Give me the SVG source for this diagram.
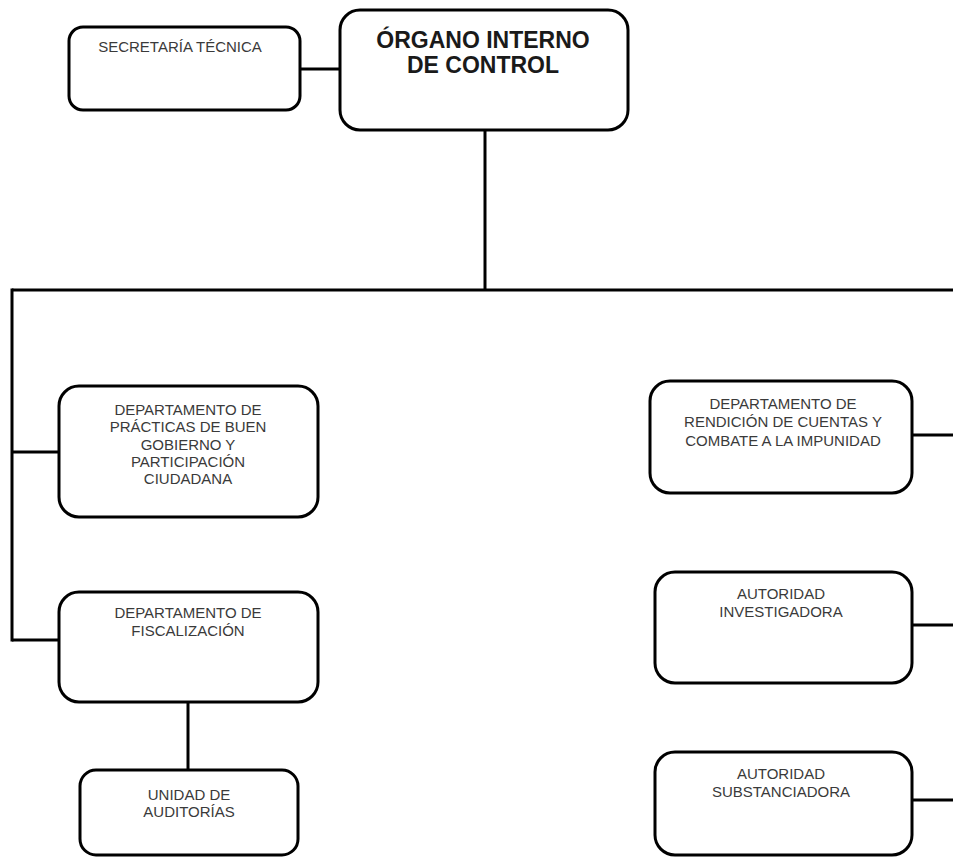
<svg xmlns="http://www.w3.org/2000/svg" width="953" height="860" viewBox="0 0 953 860">
<style>
.box{fill:#fff;stroke:#000;stroke-width:3}
.ln{stroke:#000;stroke-width:3;fill:none}
.t{font-family:"Liberation Sans",Arial,sans-serif;font-size:15px;fill:#3a3a3a;text-anchor:middle}
.tb{font-family:"Liberation Sans",Arial,sans-serif;font-size:23px;font-weight:bold;fill:#1a1a1a;text-anchor:middle}
</style>
<rect width="953" height="860" fill="#fff"/>
<g id="connectors">
<line class="ln" x1="300" y1="69" x2="340" y2="69"/>
<line class="ln" x1="485" y1="130" x2="485" y2="290"/>
<line class="ln" x1="12" y1="290" x2="953" y2="290"/>
<line class="ln" x1="12" y1="288.5" x2="12" y2="641.5"/>
<line class="ln" x1="12" y1="452" x2="59" y2="452"/>
<line class="ln" x1="12" y1="640" x2="59" y2="640"/>
<line class="ln" x1="188" y1="702" x2="188" y2="770"/>
<line class="ln" x1="912" y1="435" x2="953" y2="435"/>
<line class="ln" x1="912" y1="625" x2="953" y2="625"/>
<line class="ln" x1="912" y1="800" x2="953" y2="800"/>
</g>
<g id="secretaria">
<rect class="box" x="69" y="27" width="231" height="83" rx="14"/>
<text class="t" x="180" y="52">SECRETARÍA TÉCNICA</text>
</g>
<g id="organo">
<rect class="box" x="340" y="10" width="288" height="120" rx="20"/>
<text class="tb" x="483" y="48">ÓRGANO INTERNO</text>
<text class="tb" x="483" y="73">DE CONTROL</text>
</g>
<g id="practicas">
<rect class="box" x="59" y="386" width="259" height="131" rx="20"/>
<text class="t" x="188" y="415">DEPARTAMENTO DE</text>
<text class="t" x="188" y="432">PRÁCTICAS DE BUEN</text>
<text class="t" x="188" y="450">GOBIERNO Y</text>
<text class="t" x="188" y="467">PARTICIPACIÓN</text>
<text class="t" x="188" y="484">CIUDADANA</text>
</g>
<g id="fiscalizacion">
<rect class="box" x="59" y="592" width="259" height="110" rx="20"/>
<text class="t" x="188" y="618">DEPARTAMENTO DE</text>
<text class="t" x="188" y="636">FISCALIZACIÓN</text>
</g>
<g id="auditorias">
<rect class="box" x="80" y="770" width="218" height="85" rx="16"/>
<text class="t" x="189" y="800">UNIDAD DE</text>
<text class="t" x="189" y="817">AUDITORÍAS</text>
</g>
<g id="rendicion">
<rect class="box" x="650" y="381" width="262" height="112" rx="20"/>
<text class="t" x="783" y="409">DEPARTAMENTO DE</text>
<text class="t" x="783" y="427">RENDICIÓN DE CUENTAS Y</text>
<text class="t" x="783" y="446">COMBATE A LA IMPUNIDAD</text>
</g>
<g id="investigadora">
<rect class="box" x="655" y="572" width="257" height="111" rx="20"/>
<text class="t" x="781" y="599">AUTORIDAD</text>
<text class="t" x="781" y="617">INVESTIGADORA</text>
</g>
<g id="substanciadora">
<rect class="box" x="655" y="752" width="257" height="103" rx="20"/>
<text class="t" x="781" y="779">AUTORIDAD</text>
<text class="t" x="781" y="797">SUBSTANCIADORA</text>
</g>
</svg>
